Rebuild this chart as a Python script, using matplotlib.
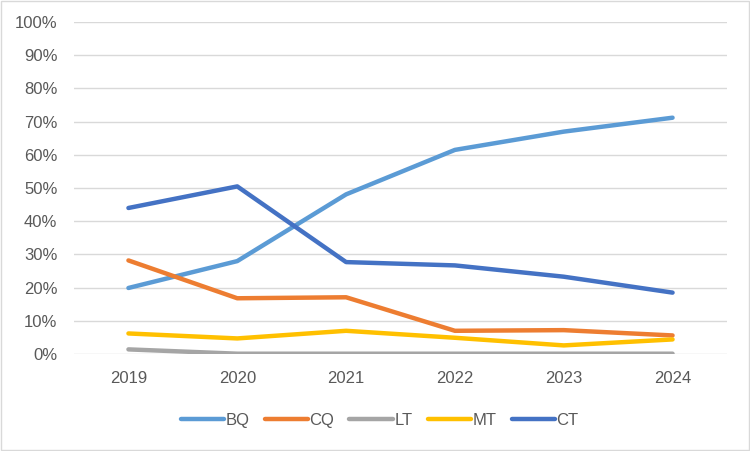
import matplotlib
matplotlib.use("Agg")
from matplotlib import pyplot as plt
from matplotlib.patches import Rectangle
from matplotlib.ticker import PercentFormatter

years = ["2019", "2020", "2021", "2022", "2023", "2024"]
bq = [19.9, 28.0, 48.1, 61.5, 67.0, 71.2]
cq = [28.2, 16.8, 17.1, 7.0, 7.2, 5.6]
lt = [1.4, 0.1, 0.1, 0.1, 0.1, 0.1]
mt = [6.2, 4.7, 7.0, 4.9, 2.6, 4.4]
ct = [44.0, 50.5, 27.7, 26.7, 23.3, 18.5]

series = [("BQ", bq, "#5B9BD5"), ("CQ", cq, "#ED7D31"), ("LT", lt, "#A5A5A5"),
          ("MT", mt, "#FFC000"), ("CT", ct, "#4472C4")]

plt.rcParams['font.family'] = ['Liberation Sans Narrow', 'Liberation Sans', 'DejaVu Sans']

fig = plt.figure(figsize=(7.5, 4.51), dpi=100)
ax = fig.add_axes([0.0987, 0.215, 0.8706, 0.736])

x = range(len(years))
for name, vals, col in series:
  ax.plot(x, vals, color=col, lw=3.2, label=name, solid_capstyle='round', solid_joinstyle='round')

ax.set_xlim(-0.5, len(years) - 0.5)
ax.set_ylim(0, 100)
ax.set_yticks(range(0, 101, 10))
ax.yaxis.set_major_formatter(PercentFormatter(decimals=0))
ax.set_xticks(list(x))
ax.set_xticklabels(years)
ax.grid(axis='y', color='#D9D9D9', lw=1)
ax.set_axisbelow(True)
for s in ax.spines.values():
  s.set_visible(False)
ax.tick_params(length=0, labelsize=12, labelcolor='#595959', pad=12)
ax.tick_params(axis='x', pad=12)

# legend sits a little left of the plot centre, as in the original
ax.legend(loc='center', bbox_to_anchor=(0.468, (420 - 354) / -331.0), ncol=5, frameon=False,
          fontsize=12, labelcolor='#595959', handlelength=2.6, handletextpad=0.1, columnspacing=0.9)

fig.patches.append(Rectangle((0.001, 0.002), 0.997, 0.995, transform=fig.transFigure,
                             fill=False, edgecolor='#D9D9D9', lw=1))
fig.savefig("out.png", dpi=100)
